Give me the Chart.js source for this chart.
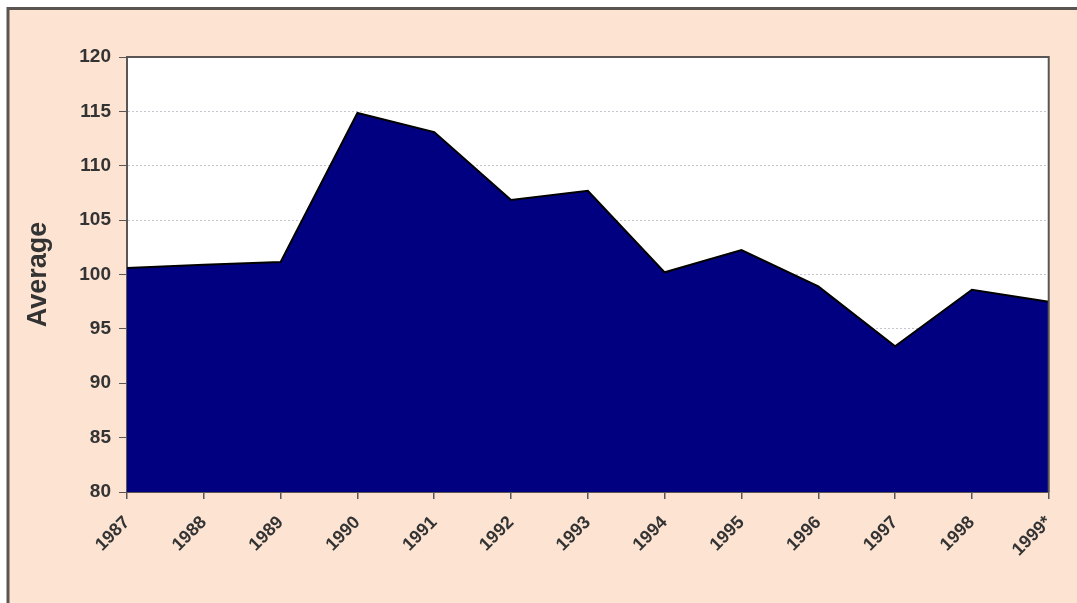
<!DOCTYPE html>
<html lang="en">
<head>
    <meta charset="UTF-8">
    <title>Average 1987-1999</title>
    <script src="https://cdn.jsdelivr.net/npm/chart.js@4.4.1/dist/chart.umd.min.js"></script>
    <style>
        html, body { margin: 0; padding: 0; background: #ffffff; }
        .wrap { position: relative; width: 1077px; height: 603px; }
    </style>
</head>
<body>
<div class="wrap"><canvas id="avgChart"></canvas></div>
<script>
    // data
    const years = ['1987', '1988', '1989', '1990', '1991', '1992', '1993', '1994', '1995', '1996', '1997', '1998', '1999*'];
    const averages = [100.6, 100.9, 101.15, 114.85, 113.1, 106.85, 107.7, 100.2, 102.25, 98.9, 93.4, 98.6, 97.5];
    const yTicks = [80, 85, 90, 95, 100, 105, 110, 115, 120];

    const PEACH = '#fce3d2';
    const NAVY = '#000080';
    const AXIS = '#5a5656';
    const FONT = 'Liberation Sans, Arial, sans-serif';

    // background + outer frame, plot area border
    const framePlugin = {
        id: 'frame',
        beforeDraw(chart) {
            const c = chart.ctx;
            c.save();
            c.fillStyle = '#ffffff';
            c.fillRect(0, 0, chart.width, chart.height);
            c.fillStyle = PEACH;
            c.fillRect(8, 8, chart.width - 8, chart.height - 8);
            c.strokeStyle = '#5b5552';
            c.lineWidth = 3;
            c.beginPath();
            c.moveTo(8, chart.height);
            c.lineTo(8, 8.5);
            c.lineTo(chart.width, 8.5);
            c.stroke();
            const a = chart.chartArea;
            c.fillStyle = '#ffffff';
            c.fillRect(a.left, a.top, a.right - a.left, a.bottom - a.top);
            c.restore();
        },
        afterDraw(chart) {
            const c = chart.ctx;
            const a = chart.chartArea;
            c.save();
            c.strokeStyle = AXIS;
            c.lineWidth = 2;
            c.beginPath();
            c.moveTo(a.left, a.top);
            c.lineTo(a.right, a.top);
            c.lineTo(a.right, a.bottom);
            c.stroke();
            c.restore();
        }
    };

    const ctx = document.getElementById('avgChart').getContext('2d');
    new Chart(ctx, {
        type: 'line',
        data: {
            labels: years,
            datasets: [{
                label: 'Average',
                data: averages,
                borderColor: '#000000',
                borderWidth: 2,
                backgroundColor: NAVY,
                fill: 'start',
                tension: 0,
                pointRadius: 0
            }]
        },
        options: {
            responsive: true,
            maintainAspectRatio: false,
            animation: false,
            layout: { padding: { left: 22, top: 57, right: 27, bottom: 0 } },
            plugins: {
                legend: { display: false },
                tooltip: { enabled: false }
            },
            scales: {
                x: {
                    offset: false,
                    afterFit(scale) { scale.height = 603 - 492; },
                    grid: {
                        display: true,
                        drawOnChartArea: false,
                        drawTicks: true,
                        tickLength: 7,
                        color: AXIS,
                        lineWidth: 1.5
                    },
                    border: { display: true, color: AXIS, width: 2 },
                    ticks: {
                        autoSkip: false,
                        maxRotation: 45,
                        minRotation: 45,
                        padding: 13,
                        color: '#333333',
                        font: { family: FONT, size: 18, weight: 'bold' }
                    }
                },
                y: {
                    min: 80,
                    max: 120,
                    afterFit(scale) { scale.width = 127 - 22; },
                    afterBuildTicks(scale) { scale.ticks = yTicks.map(v => ({ value: v })); },
                    grid: {
                        drawTicks: true,
                        tickLength: 8,
                        color: (c) => c.tick && (c.tick.value === 80 || c.tick.value === 120) ? 'rgba(0,0,0,0)' : '#c4c4cc',
                        tickColor: AXIS,
                        lineWidth: 1
                    },
                    border: { display: true, color: AXIS, width: 2, dash: [2, 2] },
                    ticks: {
                        padding: 8,
                        color: '#333333',
                        font: { family: FONT, size: 19, weight: 'bold' }
                    },
                    title: {
                        display: true,
                        text: 'Average',
                        color: '#333333',
                        padding: { top: 0, bottom: 4 },
                        font: { family: FONT, size: 27, weight: 'bold' }
                    }
                }
            }
        },
        plugins: [framePlugin]
    });
</script>
</body>
</html>
